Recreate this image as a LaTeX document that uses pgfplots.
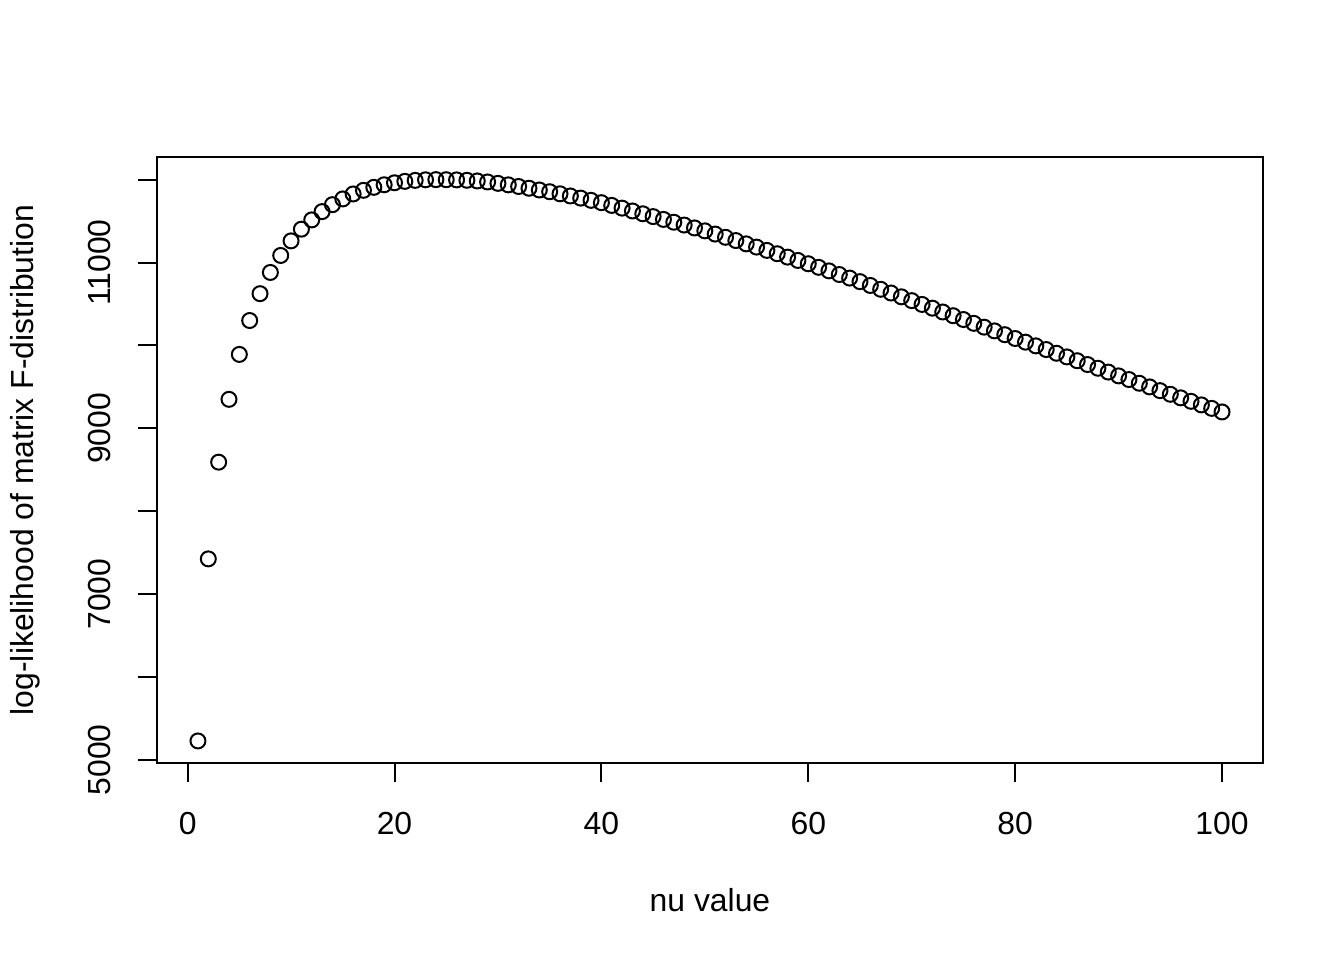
\documentclass[border=0pt,12pt]{standalone}
\usepackage{fontspec}
\setmainfont{Liberation Sans}
\usepackage{pgfplots}
\pgfplotsset{compat=1.18}
\begin{document}
\begin{tikzpicture}
\begin{axis}[
  scale only axis,
  width=414.75bp, height=227.25bp,
  xmin=-2.96, xmax=103.96,
  ymin=4962, ymax=12274,
  axis line style={line width=0.75bp},
  xtick={0,20,40,60,80,100},
  ytick={5000,6000,7000,8000,9000,10000,11000,12000},
  yticklabels={5000,,7000,,9000,,11000,},
  xtick pos=bottom, ytick pos=left,
  tick align=outside,
  major tick length=7.2bp,
  tick style={line width=0.75bp, black},
  /pgf/number format/assume math mode=true,
  scaled y ticks=false,
  xticklabel style={anchor=north, inner sep=0pt, yshift=-11.25bp, font=\normalsize},
  yticklabel style={rotate=90, anchor=south, inner sep=0pt, yshift=9.75bp, font=\normalsize},
  xlabel={nu value},
  ylabel={log-likelihood of matrix F-distribution},
  xlabel style={at={(axis description cs:0.5,0)}, anchor=center, yshift=-51.4bp, font=\normalsize},
  ylabel style={at={(axis description cs:0,0.5)}, anchor=center, yshift=49.5bp, font=\normalsize},
]
\addplot[only marks, mark=o, mark size=2.81bp, mark options={line width=0.75bp, black}] table {
x y
1 5228
2 7425
3 8592
4 9350
5 9892
6 10301
7 10625
8 10881
9 11086
10 11262
11 11403
12 11515
13 11615
14 11699
15 11768
16 11828
17 11872
18 11908
19 11939
20 11963
21 11980
22 11992
23 11999
24 12001
25 12000
26 11998
27 11993
28 11985
29 11973
30 11956
31 11938
32 11918
33 11897
34 11876
35 11855
36 11830
37 11804
38 11778
39 11751
40 11723
41 11690
42 11657
43 11623
44 11589
45 11555
46 11521
47 11487
48 11453
49 11418
50 11383
51 11344
52 11305
53 11266
54 11226
55 11187
56 11147
57 11107
58 11066
59 11026
60 10986
61 10943
62 10900
63 10856
64 10813
65 10770
66 10724
67 10678
68 10633
69 10587
70 10541
71 10495
72 10450
73 10404
74 10359
75 10313
76 10267
77 10221
78 10176
79 10130
80 10084
81 10040
82 9995
83 9951
84 9906
85 9862
86 9816
87 9770
88 9725
89 9679
90 9633
91 9589
92 9544
93 9500
94 9455
95 9411
96 9368
97 9326
98 9283
99 9241
100 9198
};
\end{axis}
\pgfresetboundingbox
\path ([shift={(-58.875bp,-73.875bp)}]current axis.south west) rectangle ([shift={(30.375bp,58.875bp)}]current axis.north east);
\end{tikzpicture}
\end{document}
